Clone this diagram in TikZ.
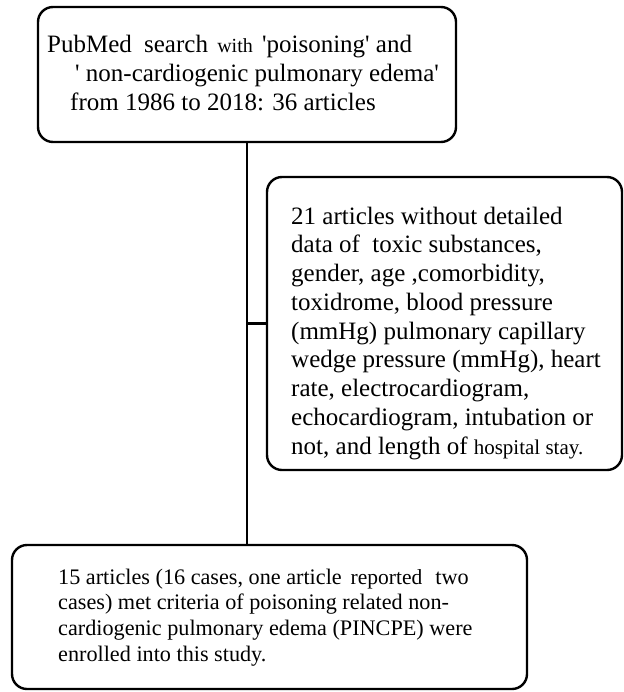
\documentclass[tikz,border=0pt]{standalone}
\usepackage{fontspec}
\setmainfont{Liberation Serif}
\newcommand{\sq}{\textquotesingle}
\begin{document}
\begin{tikzpicture}[x=1bp,y=1bp,
  box/.style={draw, line width=2.4bp, rounded corners=15bp, inner sep=0pt, fill=white},
  conn/.style={draw, line width=2.4bp},
  txt/.style={anchor=north west, inner sep=0pt, align=left}]
\useasboundingbox (0,0) rectangle (624,-692);
% boxes
\node[box, minimum width=418bp, minimum height=135bp] (b1) at (247,-74.5) {};
\node[box, minimum width=355bp, minimum height=293bp] (b2) at (444.5,-323.5) {};
\node[box, minimum width=515bp, minimum height=144bp] (b3) at (269.5,-617) {};
% connectors
\coordinate (j) at (b1.south |- b2.west);
\draw[conn] (b1.south) -- (b1.south |- b3.north);
\draw[conn] (j) -- (b2.west);
% texts
\node[txt, font={\fontsize{25bp}{29bp}\selectfont}] (t1) at (47,-31.7)
 {\strut PubMed\hspace{6bp} search\hspace{3bp} {\fontsize{20bp}{29bp}\selectfont with}\hspace{3bp} \sq poisoning\sq{} and\\
  \hspace*{28bp}\sq{} non-cardiogenic pulmonary edema\sq\\
  \hspace*{23bp}from 1986 to 2018: 36 articles};
\node[txt, font={\fontsize{25bp}{28.75bp}\selectfont}] (t2) at (291,-203.9)
 {\strut 21 articles without detailed\\
  data of\ \ toxic substances,\\
  gender, age ,comorbidity,\\
  toxidrome, blood pressure\\
  (mmHg) pulmonary capillary\\
  wedge pressure (mmHg), heart\\
  rate, electrocardiogram,\\
  echocardiogram, intubation or\\
  not, and length of {\fontsize{21bp}{28.75bp}\selectfont hospital stay.}};
\node[txt, font={\fontsize{22.2bp}{25.7bp}\selectfont}] (t3) at (58,-566)
 {\strut 15 articles (16 cases, one article\hspace{9bp}{\fontsize{21.5bp}{25.7bp}\selectfont reported}\hspace{13bp}two\\
  cases) met criteria of poisoning related non-\\
  cardiogenic pulmonary edema (PINCPE) were\\
  enrolled into this study.};
\end{tikzpicture}
\end{document}
